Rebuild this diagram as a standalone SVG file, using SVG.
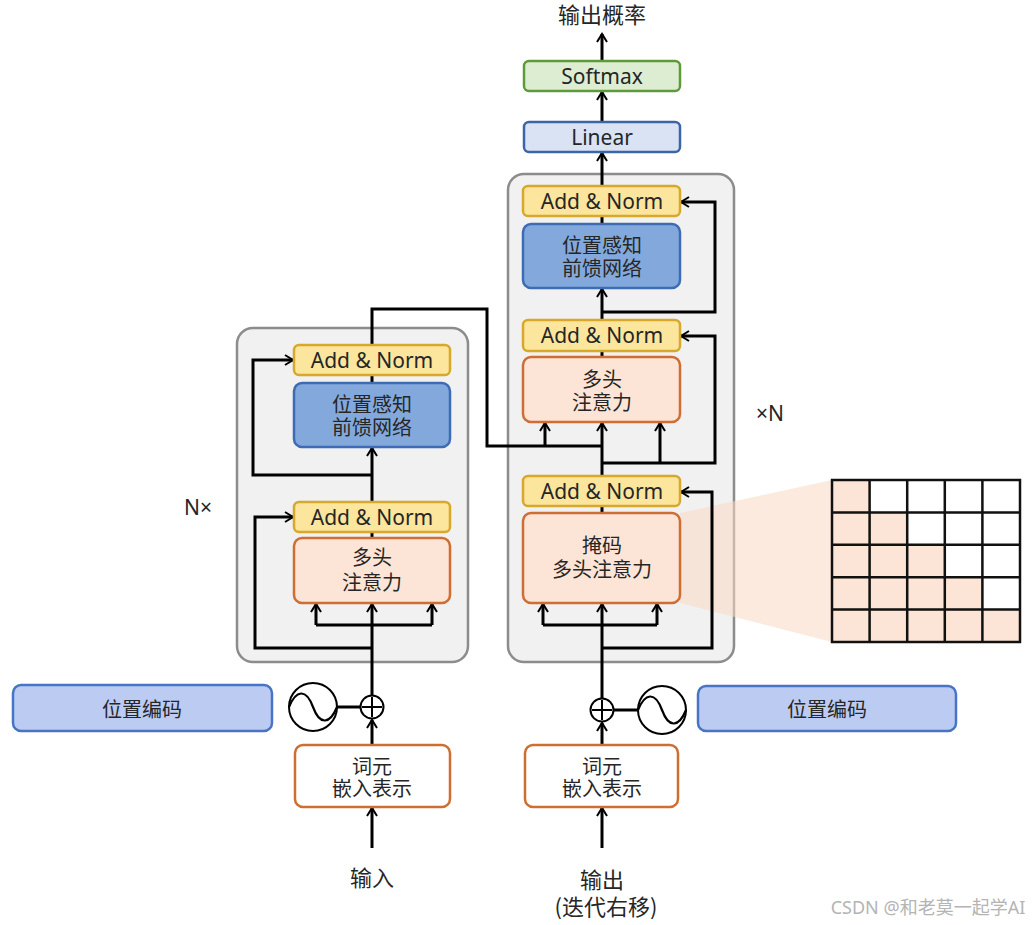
<svg xmlns="http://www.w3.org/2000/svg" width="1035" height="925" viewBox="0 0 1035 925">
<style>
text{font-family:"Noto Sans","Noto Sans CJK SC",sans-serif;fill:#262626;text-anchor:middle}
.t{font-size:21px}
.c{font-size:20px;font-family:"Noto Sans CJK SC","Noto Sans",sans-serif}
.big{font-size:22px;font-family:"Noto Sans CJK SC","Noto Sans",sans-serif}
.grey{fill:#f1f1f1;stroke:#8c8c8c;stroke-width:2.5}
.an{fill:#fce59c;stroke:#d6a82c;stroke-width:2.5}
.ffn{fill:#83a9dc;stroke:#3d6cb4;stroke-width:2.5}
.att{fill:#fce4d6;stroke:#cf6e32;stroke-width:2.5}
.emb{fill:#ffffff;stroke:#cf6e32;stroke-width:2.5}
.pe{fill:#bccbf2;stroke:#4874c6;stroke-width:2.5}
.lin{fill:#dae3f3;stroke:#3e64a8;stroke-width:2.5}
.sm{fill:#dcedd2;stroke:#5f9a3a;stroke-width:2.5}
.w{fill:none;stroke:#000;stroke-width:3}
.a{fill:none;stroke:#000;stroke-width:3;marker-end:url(#arr)}
.circ{fill:#fff;stroke:#000;stroke-width:2}
.cell{stroke:#111;stroke-width:2.5}
</style>
<defs>
<marker id="arr" viewBox="0 0 12 12" refX="10" refY="6" markerWidth="12" markerHeight="12" markerUnits="userSpaceOnUse" orient="auto">
<path d="M2,1 L10,6 L2,11" fill="none" stroke="#000" stroke-width="2"/>
</marker>
</defs>

<g id="encoder-block"><rect class="grey" x="237" y="328" width="231" height="334" rx="16"/></g>
<g id="decoder-block"><rect class="grey" x="508" y="174" width="226" height="488" rx="16"/></g>

<g id="mask-fan"><polygon points="680,513 680,603 832,642 832,480" fill="#f9d9c4" opacity="0.55"/></g>

<g id="connectors">
<path class="a" d="M372,848 L372,808"/>
<path class="a" d="M372,745 L372,720"/>
<path class="w" d="M337,707 L361,707"/>
<path class="a" d="M372,695 L372,604"/>
<path class="w" d="M316,625 L432,625"/>
<path class="a" d="M316,625 L316,604"/>
<path class="a" d="M432,625 L432,604"/>
<path class="a" d="M372,648 L255,648 L255,517 L293,517"/>
<path class="w" d="M372,538 L372,532"/>
<path class="a" d="M372,502 L372,448"/>
<path class="a" d="M372,475 L253,475 L253,360 L293,360"/>
<path class="w" d="M372,383 L372,375"/>
<path class="w" d="M372,345 L372,309 L487,309 L487,446 L602,446"/>
<path class="a" d="M545,446 L545,423"/>
<path class="a" d="M602,848 L602,808"/>
<path class="a" d="M602,745 L602,723"/>
<path class="w" d="M614,710 L638,710"/>
<path class="a" d="M602,698 L602,604"/>
<path class="w" d="M543,625 L657,625"/>
<path class="a" d="M543,625 L543,604"/>
<path class="a" d="M657,625 L657,604"/>
<path class="a" d="M602,648 L712,648 L712,492 L681,492"/>
<path class="w" d="M602,513 L602,506"/>
<path class="a" d="M602,476 L602,423"/>
<path class="a" d="M602,463 L715,463 L715,336 L681,336"/>
<path class="a" d="M660,463 L660,423"/>
<path class="w" d="M602,357 L602,351"/>
<path class="a" d="M602,320 L602,289"/>
<path class="a" d="M602,312 L715,312 L715,202 L681,202"/>
<path class="w" d="M602,224 L602,216"/>
<path class="a" d="M602,186 L602,153"/>
<path class="a" d="M602,122 L602,92"/>
<path class="a" d="M602,61 L602,34"/>
</g>

<g id="enc-addnorm2"><rect class="an" x="294" y="345" width="156" height="30" rx="5"/><text class="t" x="372" y="368">Add &amp; Norm</text></g>
<g id="enc-ffn"><rect class="ffn" x="294" y="383" width="156" height="64" rx="8"/><text class="c" x="372" y="412">位置感知</text><text class="c" x="372" y="435">前馈网络</text></g>
<g id="enc-addnorm1"><rect class="an" x="294" y="502" width="156" height="30" rx="5"/><text class="t" x="372" y="525">Add &amp; Norm</text></g>
<g id="enc-attn"><rect class="att" x="294" y="538" width="156" height="65" rx="8"/><text class="c" x="372" y="565">多头</text><text class="c" x="372" y="590">注意力</text></g>
<g id="enc-pe"><rect class="pe" x="13" y="685" width="259" height="46" rx="8"/><text class="c" x="142" y="717">位置编码</text></g>
<g id="enc-sine"><circle class="circ" cx="313" cy="707" r="24"/><path d="M289,707 C296,690 306,688 313,707 C320,726 330,724 337,707" fill="none" stroke="#000" stroke-width="2.2"/></g>
<g id="enc-plus"><circle class="circ" cx="372" cy="707" r="11.5"/><path d="M372,697 L372,717 M362,707 L382,707" stroke="#000" stroke-width="2"/></g>
<g id="enc-emb"><rect class="emb" x="295" y="745" width="155" height="62" rx="8"/><text class="c" x="372" y="774">词元</text><text class="c" x="372" y="796">嵌入表示</text></g>
<g id="enc-input"><text class="big" x="372" y="886">输入</text></g>
<g id="enc-n"><text x="198" y="515" style="font-size:21px">N×</text></g>

<g id="dec-addnorm3"><rect class="an" x="523" y="186" width="157" height="30" rx="5"/><text class="t" x="602" y="209">Add &amp; Norm</text></g>
<g id="dec-ffn"><rect class="ffn" x="523" y="224" width="157" height="64" rx="8"/><text class="c" x="602" y="253">位置感知</text><text class="c" x="602" y="276">前馈网络</text></g>
<g id="dec-addnorm2"><rect class="an" x="523" y="320" width="157" height="31" rx="5"/><text class="t" x="602" y="343">Add &amp; Norm</text></g>
<g id="dec-attn"><rect class="att" x="523" y="357" width="157" height="65" rx="8"/><text class="c" x="602" y="387">多头</text><text class="c" x="602" y="410">注意力</text></g>
<g id="dec-addnorm1"><rect class="an" x="523" y="476" width="157" height="30" rx="5"/><text class="t" x="602" y="499">Add &amp; Norm</text></g>
<g id="dec-masked"><rect class="att" x="523" y="513" width="157" height="90" rx="8"/><text class="c" x="602" y="553">掩码</text><text class="c" x="602" y="577">多头注意力</text></g>
<g id="dec-pe"><rect class="pe" x="698" y="686" width="258" height="45" rx="8"/><text class="c" x="827" y="717">位置编码</text></g>
<g id="dec-sine"><circle class="circ" cx="662" cy="710" r="24"/><path d="M638,710 C645,693 655,691 662,710 C669,729 679,727 686,710" fill="none" stroke="#000" stroke-width="2.2"/></g>
<g id="dec-plus"><circle class="circ" cx="602" cy="710" r="11.5"/><path d="M602,700 L602,720 M592,710 L612,710" stroke="#000" stroke-width="2"/></g>
<g id="dec-emb"><rect class="emb" x="525" y="745" width="153" height="62" rx="8"/><text class="c" x="602" y="774">词元</text><text class="c" x="602" y="796">嵌入表示</text></g>
<g id="dec-output"><text class="big" x="602" y="888">输出</text><text class="big" x="606" y="915">(迭代右移)</text></g>
<g id="dec-n"><text x="770" y="421" style="font-size:21px">×N</text></g>
<g id="linear"><rect class="lin" x="524" y="122" width="156" height="30" rx="5"/><text class="t" x="602" y="145">Linear</text></g>
<g id="softmax"><rect class="sm" x="524" y="61" width="156" height="30" rx="5"/><text class="t" x="602" y="84">Softmax</text></g>
<g id="out-prob"><text class="big" x="602" y="23">输出概率</text></g>

<g id="mask-grid">
<g fill="#fce4d6">
<rect x="832" y="480" width="37.6" height="32.4"/>
<rect x="832" y="512.4" width="75.2" height="32.4"/>
<rect x="832" y="544.8" width="112.8" height="32.4"/>
<rect x="832" y="577.2" width="150.4" height="32.4"/>
<rect x="832" y="609.6" width="188" height="32.4"/>
</g>
<path class="cell" fill="none" d="M832,480 H1020 V642 H832 Z M869.6,480 V642 M907.2,480 V642 M944.8,480 V642 M982.4,480 V642 M832,512.4 H1020 M832,544.8 H1020 M832,577.2 H1020 M832,609.6 H1020"/>
</g>

<g id="watermark"><text x="928" y="914" style="font-size:18px;fill:#b4b4b4;font-family:'Noto Sans','Noto Sans CJK SC',sans-serif">CSDN @和老莫一起学AI</text></g>
</svg>
